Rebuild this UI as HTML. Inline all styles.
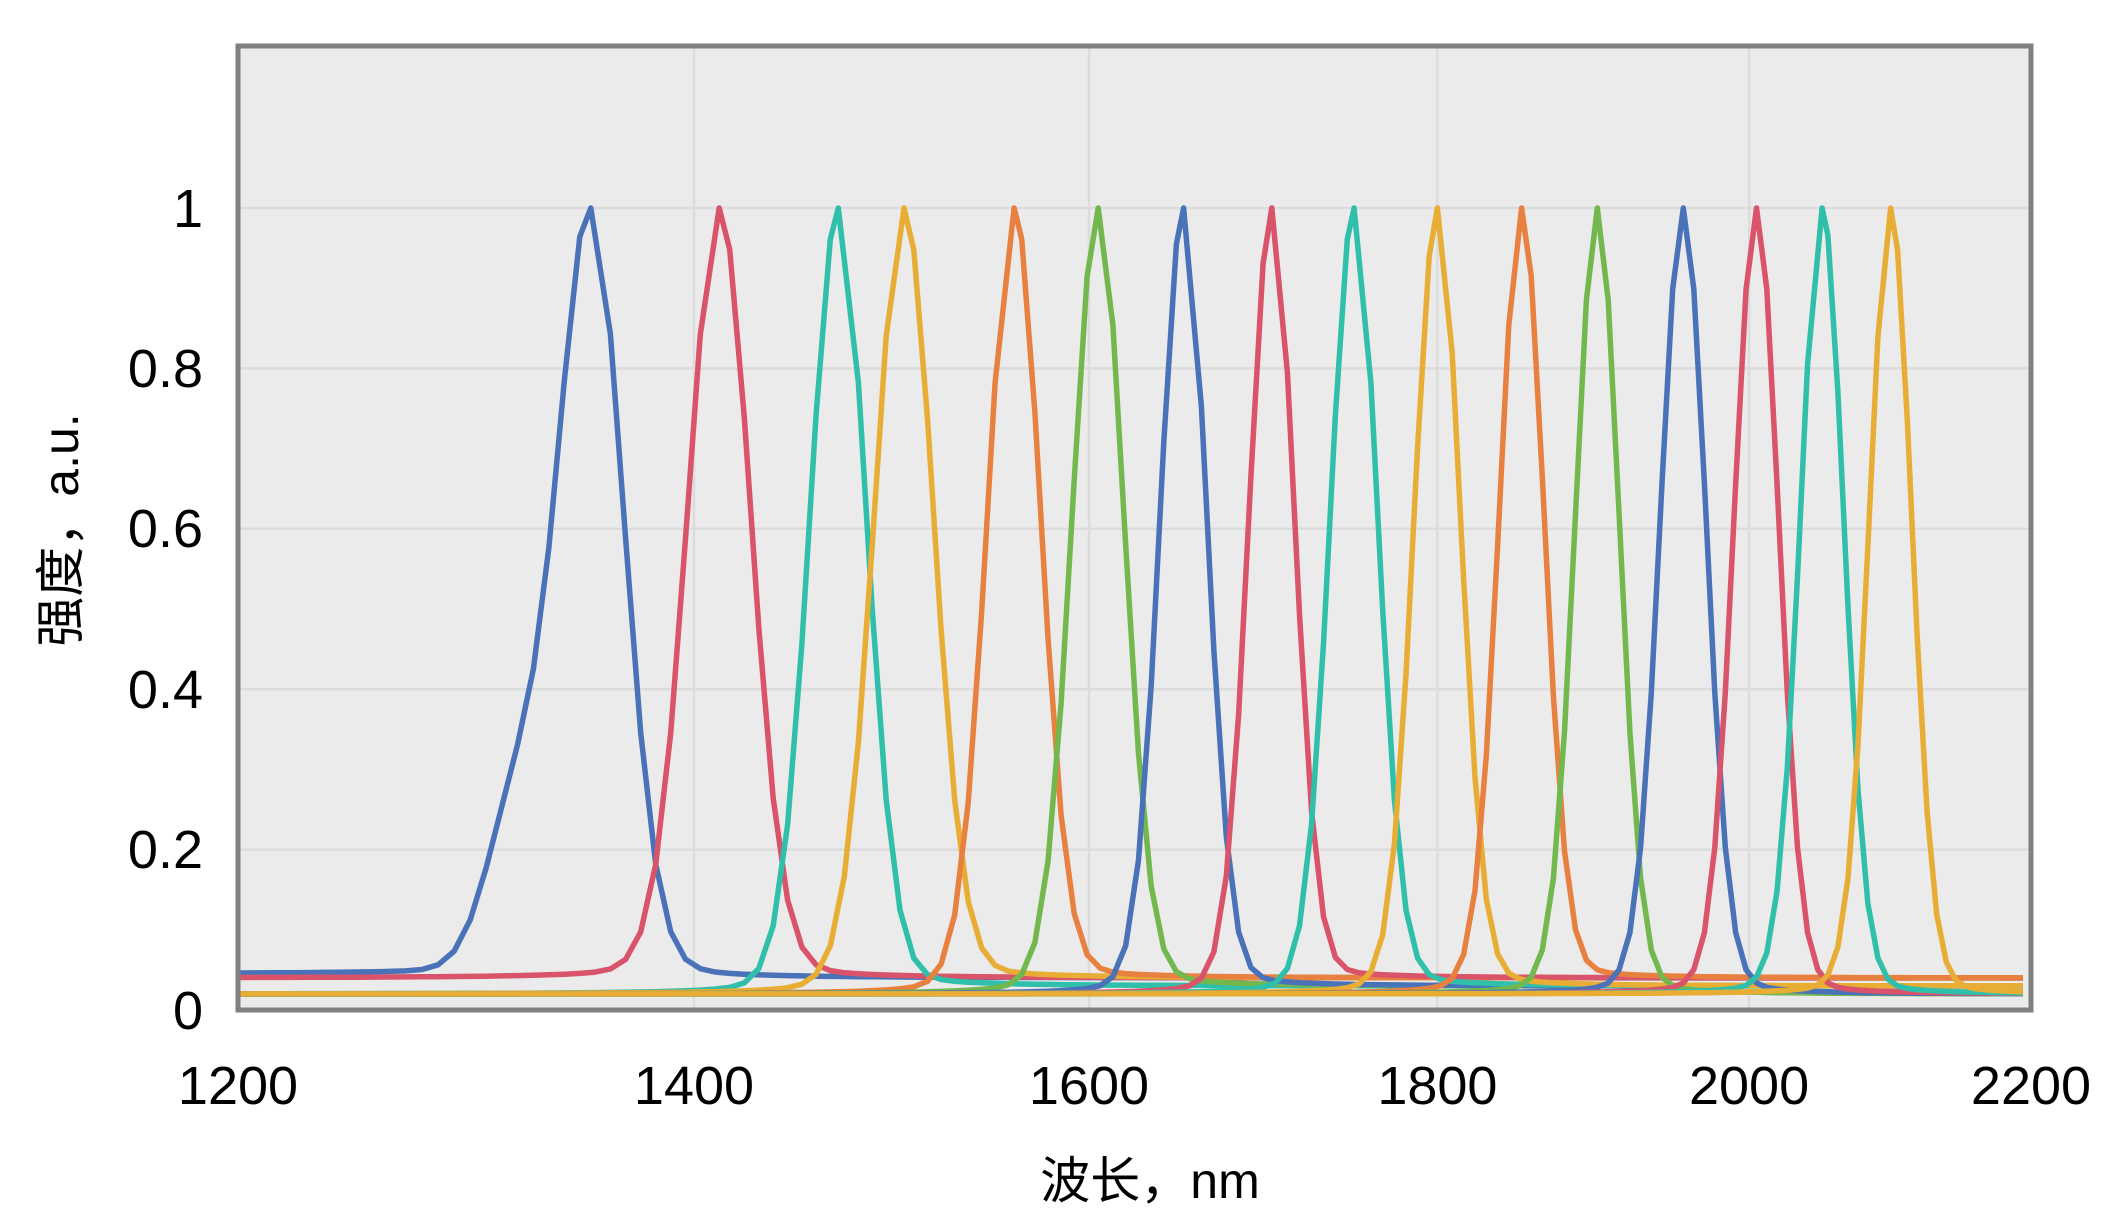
<!DOCTYPE html>
<html><head><meta charset="utf-8"><style>
html,body{margin:0;padding:0;background:#fff;}
svg{display:block;}
text{font-family:"Liberation Sans","Noto Sans CJK SC",sans-serif;fill:#000;}
</style></head><body>
<svg id="s" width="2128" height="1231" viewBox="0 0 2128 1231" xmlns="http://www.w3.org/2000/svg">
<rect x="238" y="46" width="1793" height="964" fill="#ebebeb"/>
<g id="grid" stroke="#dcdcdc" stroke-width="2.5"></g>
<g id="series" fill="none" stroke-width="5.5" stroke-linejoin="round"></g>
<rect x="238" y="46" width="1793" height="964" fill="none" stroke="#808080" stroke-width="5"/>
<g font-size="54" text-anchor="end">
<text x="203" y="1029">0</text>
<text x="203" y="868">0.2</text>
<text x="203" y="708">0.4</text>
<text x="203" y="547">0.6</text>
<text x="203" y="387">0.8</text>
<text x="203" y="227">1</text>
</g>
<g font-size="54" text-anchor="middle" id="xt">
<text x="238" y="1104">1200</text>
<text x="1150" y="1198" font-size="50">波长，nm</text>
</g>
<text transform="translate(78,530) rotate(-90)" font-size="50" text-anchor="middle">强度，a.u.</text>
</svg>
<script>
var L=238,R=2031,B=1010,K=802;
var X=function(w){return L+Math.log(w/1200)/Math.log(2200/1200)*(R-L);};
var Y=function(v){return B-v*K;};
var gr="",xt="";
[0.2,0.4,0.6,0.8,1].forEach(function(v){gr+='<line x1="'+L+'" x2="'+R+'" y1="'+Y(v)+'" y2="'+Y(v)+'"/>';});
[1400,1600,1800,2000].forEach(function(w){gr+='<line x1="'+X(w)+'" x2="'+X(w)+'" y1="46" y2="1010"/>';});
[1400,1600,1800,2000,2200].forEach(function(w){xt+='<text x="'+X(w)+'" y="1104">'+w+'</text>';});
document.getElementById("grid").innerHTML=gr;
document.getElementById("xt").insertAdjacentHTML("beforeend",xt);
var C={b:"#4a72b8",r:"#d9536a",t:"#2fbfab",y:"#e8ad35",o:"#e8803f",g:"#72b84f"};
var S=[[1352,"b",0.045,0.04,15],[1412,"r",0.04,0.04,15],[1470,"t",0.02,0.03,14],[1503,"y",0.02,0.04,15],
[1560,"o",0.02,0.04,14],[1605,"g",0.02,0.03,14],[1652,"b",0.02,0.03,13],[1702,"r",0.02,0.04,13],
[1750,"t",0.02,0.03,14],[1800,"y",0.02,0.03,14],[1852,"o",0.02,0.04,14],[1900,"g",0.02,0.02,14],
[1956,"b",0.02,0.02,15],[2005,"r",0.02,0.02,15],[2050,"t",0.02,0.02,15],[2098,"y",0.02,0.02,15]];
var g=document.getElementById("series"),h="";
S.forEach(function(s,i){
 var p=s[0],lb=s[2],rb=s[3],sg=s[4],d="";
 for(var w=1200;w<=2200;w+=7){
  var ww=w; if(Math.abs(w-p)<4)ww=p;
  var base=lb+(rb-lb)/(1+Math.exp(-(ww-p)/15));
  var z=(ww-p)/sg;
  var pk=Math.exp(-0.5*z*z)*0.94+0.06/(1+z*z*0.5);
  if(i===0&&ww<p){pk+=0.2*Math.exp(-0.5*Math.pow((ww-1318)/13,2));}
  var v=base+(1-base)*pk;
  d+=(d?"L":"M")+X(ww).toFixed(1)+","+Y(Math.min(v,1)).toFixed(1);
 }
 h+='<path d="'+d+'" stroke="'+C[s[1]]+'"/>';
});
g.innerHTML=h;
</script>
</body></html>
